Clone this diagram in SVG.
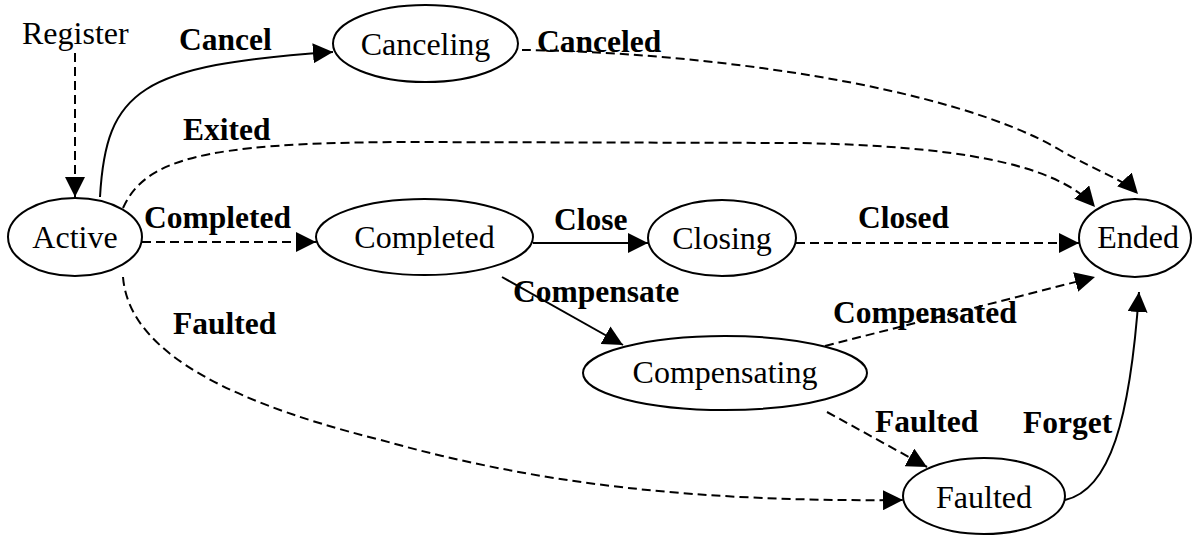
<svg xmlns="http://www.w3.org/2000/svg" width="1193" height="535" viewBox="0 0 1193 535">
  <style>
    .node { fill: #fff; stroke: #000; stroke-width: 2; }
    .name { font-family: "Liberation Serif", "Times New Roman", serif; font-size: 32px; fill: #000; text-anchor: middle; }
    .event { font-family: "Liberation Serif", "Times New Roman", serif; font-size: 31.5px; font-weight: bold; fill: #000; }
    .edge { fill: none; stroke: #000; stroke-width: 2; marker-end: url(#arrow); }
    .dash { stroke-dasharray: 9 5; }
  </style>
  <defs>
    <marker id="arrow" viewBox="0 0 20 20" refX="20" refY="10" markerWidth="20" markerHeight="20" markerUnits="userSpaceOnUse" orient="auto">
      <path d="M0,0 L20,10 L0,20 z" fill="#000"/>
    </marker>
  </defs>
  <rect width="1193" height="535" fill="#fff"/>

  <!-- transitions -->
  <g id="edges">
    <path class="edge dash" d="M75,53 L75,197"/>
    <path class="edge" d="M100,197 C106,90 140,65 333,52"/>
    <path class="edge dash" d="M522,50 C700,52 950,85 1060,150 C1100,173 1125,180 1138,194"/>
    <path class="edge dash" d="M123,208 C145,160 200,143 400,142 L800,143 C950,146 1055,162 1095,207"/>
    <path class="edge dash" d="M142,242 L316,242"/>
    <path class="edge" d="M533,243 L648,243"/>
    <path class="edge dash" d="M796,243 L1079,243"/>
    <path class="edge" d="M502,277 L623,345"/>
    <path class="edge dash" d="M825,346 L1095,277"/>
    <path class="edge dash" d="M827,412 L927,467"/>
    <path class="edge dash" d="M123,277 C128,340 200,395 381,440 C540,485 700,502 903,500"/>
    <path class="edge" d="M1065,500 C1110,490 1130,420 1139,292"/>
  </g>

  <!-- transition labels -->
  <g id="labels">
    <text class="name" x="22" y="44" style="text-anchor:start">Register</text>
    <text class="event" x="179" y="50">Cancel</text>
    <text class="event" x="537" y="52">Canceled</text>
    <text class="event" x="183" y="140">Exited</text>
    <text class="event" x="144" y="228">Completed</text>
    <text class="event" x="554" y="230">Close</text>
    <text class="event" x="858" y="228">Closed</text>
    <text class="event" x="513" y="302">Compensate</text>
    <text class="event" x="173" y="334">Faulted</text>
    <text class="event" x="833" y="323">Compensated</text>
    <text class="event" x="875" y="432">Faulted</text>
    <text class="event" x="1023" y="433">Forget</text>
  </g>

  <!-- states -->
  <g id="active">
    <ellipse class="node" cx="75" cy="237" rx="67" ry="39"/>
    <text class="name" x="75" y="248">Active</text>
  </g>
  <g id="canceling">
    <ellipse class="node" cx="425.5" cy="43.5" rx="92.5" ry="38.5"/>
    <text class="name" x="425.5" y="55">Canceling</text>
  </g>
  <g id="completed">
    <ellipse class="node" cx="424.5" cy="237" rx="108.5" ry="38"/>
    <text class="name" x="424.5" y="248">Completed</text>
  </g>
  <g id="closing">
    <ellipse class="node" cx="722" cy="238" rx="74" ry="38"/>
    <text class="name" x="722" y="249">Closing</text>
  </g>
  <g id="ended">
    <ellipse class="node" cx="1135" cy="238" rx="56" ry="39"/>
    <text class="name" x="1138" y="248">Ended</text>
  </g>
  <g id="compensating">
    <ellipse class="node" cx="725" cy="373" rx="142" ry="37"/>
    <text class="name" x="725" y="383">Compensating</text>
  </g>
  <g id="faulted">
    <ellipse class="node" cx="984" cy="496" rx="81" ry="38"/>
    <text class="name" x="984" y="508">Faulted</text>
  </g>
</svg>
